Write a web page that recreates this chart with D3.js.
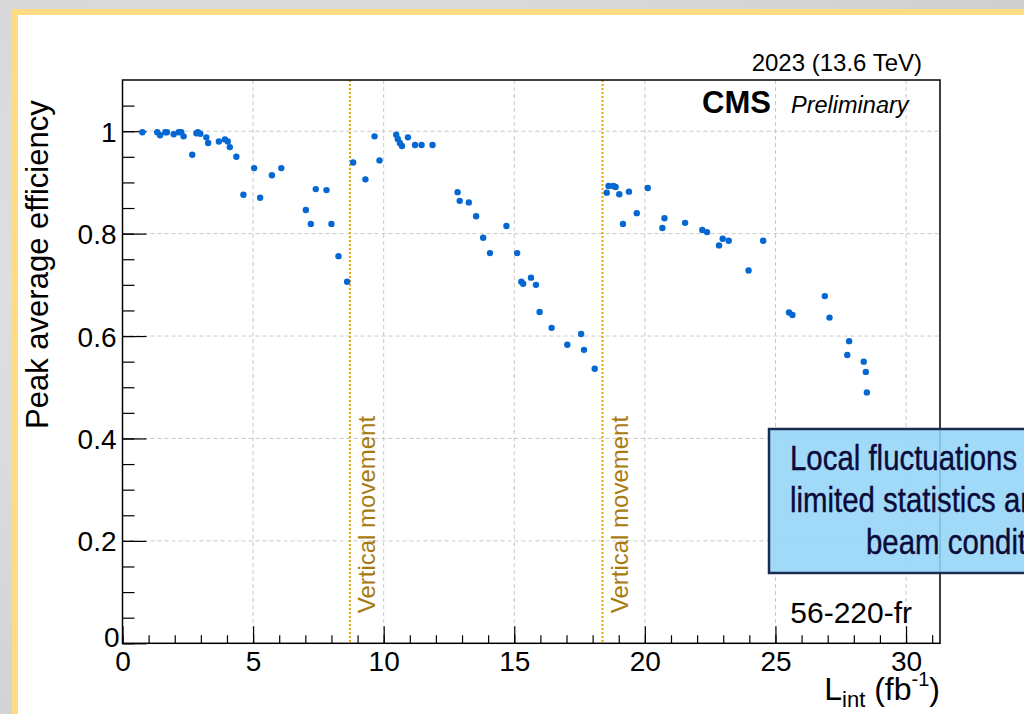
<!DOCTYPE html>
<html>
<head>
<meta charset="utf-8">
<script src="https://cdn.jsdelivr.net/npm/d3@7"></script>
<style>
  html, body { margin: 0; padding: 0; background: #dcdcdc; }
  svg { display: block; font-family: "Liberation Sans", Arial, sans-serif; }
</style>
</head>
<body>
<svg id="chart" width="1024" height="714"></svg>
<script>
// integrated luminosity (fb^-1) and peak average efficiency
const lumi = [0.76, 1.33, 1.44, 1.64, 1.70, 1.96, 2.15, 2.25, 2.34, 2.67, 2.83, 2.89, 2.98, 3.21, 3.28,
  3.69, 3.92, 4.03, 4.11, 4.36, 4.63, 5.04, 5.27, 5.72, 6.08, 7.02, 7.21, 7.40, 7.81, 8.00,
  8.27, 8.60, 8.83, 9.30, 9.65, 9.84, 10.48, 10.54, 10.62, 10.70, 10.93, 11.20, 11.45, 11.87,
  12.83, 12.91, 13.26, 13.54, 13.81, 14.07, 14.70, 15.11, 15.27, 15.34, 15.64, 15.83, 15.97,
  16.43, 17.03, 17.56, 17.67, 18.08, 18.54, 18.61, 18.79, 18.88, 19.02, 19.16, 19.39, 19.69,
  20.11, 20.67, 20.75, 21.54, 22.20, 22.38, 22.84, 22.98, 23.21, 23.97, 24.53, 25.52, 25.65,
  26.89, 27.07, 27.75, 27.82, 28.38, 28.46, 28.50];
const efficiency = [0.998, 0.998, 0.992, 0.998, 0.998, 0.994, 0.998, 0.998, 0.990, 0.954, 0.996, 0.998, 0.995, 0.988, 0.977,
  0.980, 0.984, 0.980, 0.969, 0.950, 0.876, 0.928, 0.870, 0.914, 0.928, 0.846, 0.819, 0.887, 0.885, 0.819,
  0.756, 0.706, 0.939, 0.906, 0.990, 0.943, 0.993, 0.985, 0.977, 0.971, 0.988, 0.973, 0.973, 0.973,
  0.881, 0.864, 0.861, 0.834, 0.792, 0.762, 0.815, 0.762, 0.706, 0.702, 0.714, 0.700, 0.647,
  0.616, 0.583, 0.604, 0.573, 0.536, 0.880, 0.893, 0.893, 0.891, 0.877, 0.819, 0.882, 0.840,
  0.889, 0.811, 0.830, 0.821, 0.807, 0.803, 0.777, 0.790, 0.786, 0.728, 0.786, 0.646, 0.641,
  0.678, 0.636, 0.563, 0.590, 0.550, 0.530, 0.490];

// detector vertical movements
const movements = [8.71, 18.38];
const movementLabel = "Vertical movement";

const xMajorTicks = [0, 5, 10, 15, 20, 25, 30];
const yMajorTicks = [0, 0.2, 0.4, 0.6, 0.8, 1];
const noteLines = ["Local fluctuations due to", "limited statistics and", "beam conditions"];

const width = 1024, height = 714;
const plotLeft = 122.5, plotRight = 940, plotTop = 80, plotBottom = 643.3;

const svg = d3.select("#chart");

// slide background + yellow framed panel
const defs = svg.append("defs");
const bg = defs.append("radialGradient").attr("id", "marble").attr("cx", "30%").attr("cy", "40%").attr("r", "80%");
bg.append("stop").attr("offset", "0%").attr("stop-color", "#e6e6e6");
bg.append("stop").attr("offset", "100%").attr("stop-color", "#cfcfcf");
svg.append("rect").attr("width", width).attr("height", height).attr("fill", "url(#marble)");
svg.append("rect")
   .attr("x", 15).attr("y", 12)
   .attr("width", 1100).attr("height", 800)
   .attr("fill", "#ffffff")
   .attr("stroke", "#ffdb84")
   .attr("stroke-width", 6);

// scales
const x = d3.scaleLinear().domain([0, 31.3]).range([plotLeft, plotRight]);
const y = d3.scaleLinear().domain([0, 1.1]).range([plotBottom, plotTop]);

// grid
const grid = svg.append("g").attr("stroke", "#c9c9c9").attr("stroke-width", 1).attr("stroke-dasharray", "4,3");
grid.selectAll("line.gx")
    .data(xMajorTicks.filter(d => d > 0))
    .enter().append("line")
    .attr("x1", d => x(d)).attr("x2", d => x(d))
    .attr("y1", y(1.1)).attr("y2", y(0));
grid.selectAll("line.gy")
    .data(yMajorTicks.filter(d => d > 0))
    .enter().append("line")
    .attr("x1", x(0)).attr("x2", x(31.3))
    .attr("y1", d => y(d)).attr("y2", d => y(d));

// vertical movement markers
const mv = svg.append("g");
mv.selectAll("line")
  .data(movements)
  .enter().append("line")
  .attr("x1", d => x(d)).attr("x2", d => x(d))
  .attr("y1", y(1.1)).attr("y2", y(0))
  .attr("stroke", "#e3a70c")
  .attr("stroke-width", 2)
  .attr("stroke-dasharray", "2,2");
mv.selectAll("text")
  .data(movements)
  .enter().append("text")
  .attr("transform", d => `translate(${x(d) + 25}, ${y(0) - 30}) rotate(-90)`)
  .attr("fill", "#a87b10")
  .attr("font-size", 24)
  .text(movementLabel);

// axes: minor then major ticks pointing inward
const xMinor = d3.axisBottom(x).tickValues(d3.range(0, 32, 1)).tickSize(-8).tickFormat("");
const xMajor = d3.axisBottom(x).tickValues(xMajorTicks).tickSize(-17).tickPadding(8).tickFormat(d3.format("d"));
const yMinor = d3.axisLeft(y).tickValues(d3.range(0, 1.1, 0.05)).tickSize(-12).tickFormat("");
const yMajor = d3.axisLeft(y).tickValues(yMajorTicks).tickSize(-24).tickPadding(6).tickFormat(d => d === 0 ? "0" : d3.format("~g")(d));

const styleAxis = g => {
  g.select(".domain").remove();
  g.selectAll("line").attr("stroke", "#000").attr("stroke-width", 1.2);
  g.selectAll("text").attr("fill", "#000").attr("font-size", 28)
   .attr("font-family", "'Liberation Sans', Arial, sans-serif");
};

svg.append("g").attr("transform", `translate(0,${plotBottom})`).call(xMinor).call(styleAxis);
svg.append("g").attr("transform", `translate(0,${plotBottom})`).call(xMajor).call(styleAxis);
svg.append("g").attr("transform", `translate(${plotLeft},0)`).call(yMinor).call(styleAxis);
const yAx = svg.append("g").attr("transform", `translate(${plotLeft},0)`).call(yMajor).call(styleAxis);
yAx.selectAll(".tick text").attr("dy", "0.36em");
// the y-axis zero sits up-left like in ROOT
yAx.selectAll(".tick").filter(d => d === 0).select("text").attr("dy", "0.1em").attr("x", -3);

// frame
svg.append("rect")
   .attr("x", plotLeft).attr("y", plotTop)
   .attr("width", plotRight - plotLeft).attr("height", plotBottom - plotTop)
   .attr("fill", "none").attr("stroke", "#000").attr("stroke-width", 1.5);

// points
const points = lumi.map((l, i) => ({ l, e: efficiency[i] }));
svg.append("g").selectAll("circle")
   .data(points)
   .enter().append("circle")
   .attr("cx", d => x(d.l))
   .attr("cy", d => y(d.e))
   .attr("r", 3.2)
   .attr("fill", "#0568d2");

// titles and labels
svg.append("text")
   .attr("transform", `translate(48, ${(plotTop + plotBottom) / 2 - 97}) rotate(-90)`)
   .attr("text-anchor", "middle")
   .attr("font-size", 31)
   .text("Peak average efficiency");

const xt = svg.append("text").attr("x", plotRight).attr("y", 700).attr("text-anchor", "end").attr("font-size", 32);
xt.append("tspan").text("L");
xt.append("tspan").attr("font-size", 22).attr("dy", 7).text("int");
xt.append("tspan").attr("dy", -7).text(" (fb");
xt.append("tspan").attr("font-size", 20).attr("dy", -14).text("-1");
xt.append("tspan").attr("dy", 14).text(")");

svg.append("text").attr("x", 922).attr("y", 71).attr("text-anchor", "end").attr("font-size", 24).text("2023 (13.6 TeV)");
svg.append("text").attr("x", 771).attr("y", 113).attr("text-anchor", "end")
   .attr("font-size", 31).attr("font-weight", "bold").text("CMS");
svg.append("text").attr("x", 791).attr("y", 113)
   .attr("font-size", 23.5).attr("font-style", "italic").text("Preliminary");
svg.append("text").attr("x", 912).attr("y", 623).attr("text-anchor", "end").attr("font-size", 30).text("56-220-fr");

// annotation box (runs off the slide edge), condensed text
const note = svg.append("g");
note.append("rect")
    .attr("x", 769).attr("y", 429)
    .attr("width", 320).attr("height", 144)
    .attr("fill", "#94d4f7").attr("fill-opacity", 0.88)
    .attr("stroke", "#1b2c52").attr("stroke-width", 2.5);
const noteStart = [790, 790, 866];
note.selectAll("text")
    .data(noteLines)
    .enter().append("text")
    .attr("transform", (d, i) => `translate(${noteStart[i]}, ${470 + i * 42}) scale(0.84, 1)`)
    .attr("font-size", 35)
    .attr("fill", "#0b0b3a")
    .attr("stroke", "#0b0b3a")
    .attr("stroke-width", 0.4)
    .text(d => d);
</script>
</body>
</html>
